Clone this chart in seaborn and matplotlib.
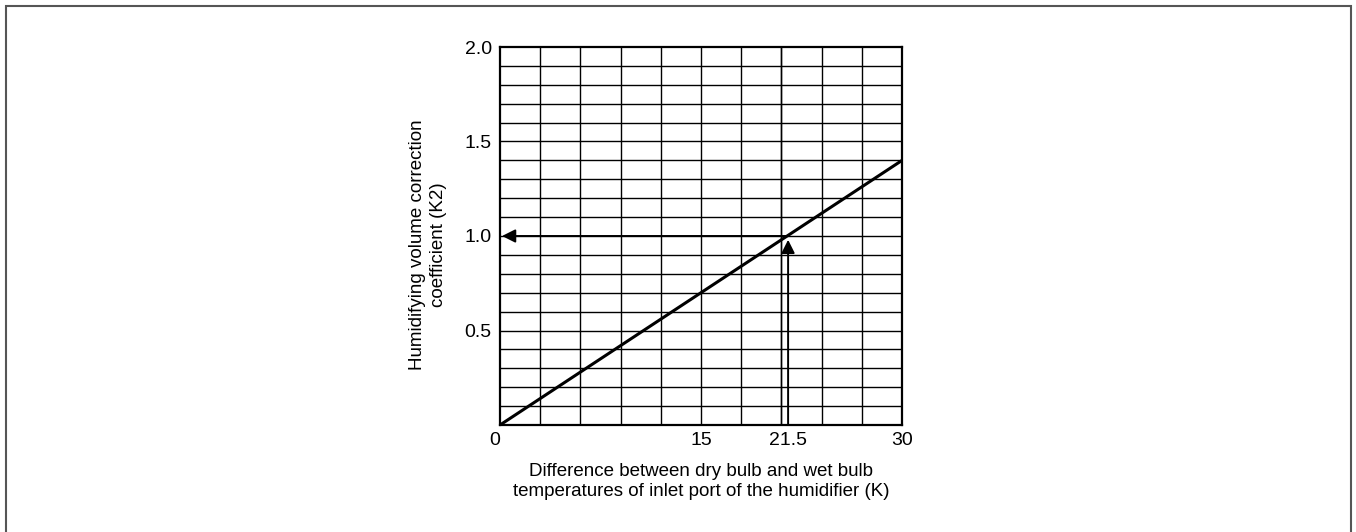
import numpy as np
import pandas as pd
import seaborn as sns
import matplotlib.pyplot as plt
from matplotlib.patches import Rectangle

# data
temp_diff = [0, 30]          # K
k2_coef = [0, 1.4]           # correction coefficient
example_x = 21.5
example_y = 1.0
x_ticks = [0, 15, 21.5, 30]
x_ticklabels = ['0', '15', '21.5', '30']
y_ticks = [0.5, 1.0, 1.5, 2.0]
y_ticklabels = ['0.5', '1.0', '1.5', '2.0']

sns.set_style('white')
plt.rcParams['font.family'] = ['Liberation Sans', 'DejaVu Sans']
plt.rcParams['text.color'] = 'black'
plt.rcParams['xtick.color'] = 'black'
plt.rcParams['ytick.color'] = 'black'
plt.rcParams['axes.labelcolor'] = 'black'

fig = plt.figure(figsize=(13.56, 5.32), dpi=100)
ax = fig.add_axes([500 / 1356, 1 - 425 / 532, 402 / 1356, 378 / 532])

df = pd.DataFrame({'x': temp_diff, 'y': k2_coef})
sns.lineplot(data=df, x='x', y='y', ax=ax, color='black', linewidth=2.2, zorder=3)

ax.set_xlim(0, 30)
ax.set_ylim(0, 2.0)

# grid: every 3 K and every 0.1, plus a line at 21
for gx in list(np.arange(3, 30, 3)) + [21]:
    ax.axvline(gx, color='black', linewidth=1.0, zorder=1)
for gy in np.arange(0.1, 2.0, 0.1):
    ax.axhline(gy, color='black', linewidth=1.0, zorder=1)

ax.set_xticks(x_ticks)
ax.set_xticklabels(x_ticklabels)
ax.set_yticks(y_ticks)
ax.set_yticklabels(y_ticklabels)
ax.tick_params(which='both', length=0, labelsize=14)
ax.tick_params(axis='x', pad=5)
ax.tick_params(axis='y', pad=6)
ax.get_xticklabels()[0].set_horizontalalignment('right')

for s in ax.spines.values():
    s.set_color('black')
    s.set_linewidth(1.6)

ax.set_xlabel('Difference between dry bulb and wet bulb\ntemperatures of inlet port of the humidifier (K)',
              fontsize=13.5, labelpad=10, linespacing=1.25)
ax.set_ylabel('')
fig.text(428 / 1356, 1 - 245 / 532, 'Humidifying volume correction\ncoefficient (K2)',
         rotation=90, ha='center', va='center', fontsize=13.5, linespacing=1.25)

# reading arrows
arrow_kw = dict(arrowstyle='-|>', color='black', lw=1.4, mutation_scale=20,
                shrinkA=0, shrinkB=0)
ax.annotate('', xy=(0.15, example_y), xytext=(example_x, example_y), arrowprops=arrow_kw)
ax.annotate('', xy=(example_x, 0.98), xytext=(example_x, 0), arrowprops=arrow_kw)

# outer frame
fig.patches.append(Rectangle((6 / 1356, -0.1), 1345 / 1356, 1.1 - 6 / 532,
                             transform=fig.transFigure, fill=False,
                             edgecolor='#555555', linewidth=1.5))

fig.savefig('out.png', dpi=100)
